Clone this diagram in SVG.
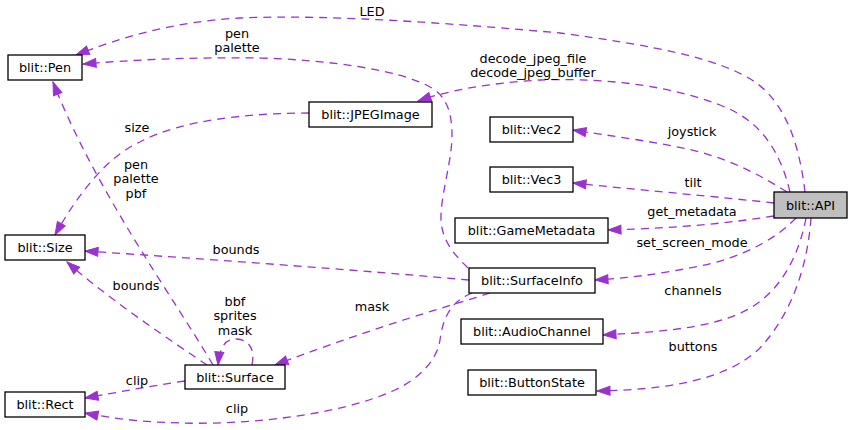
<svg xmlns="http://www.w3.org/2000/svg" width="852" height="430" viewBox="0 0 852 430">
<style>
.n rect{fill:#fff;stroke:#000;stroke-width:1.3}
.n text,.e text{font-family:"DejaVu Sans","Liberation Sans",sans-serif;font-size:12.8px;fill:#000;text-anchor:middle}
.e path{fill:none;stroke:#9a32cd;stroke-width:1.3;stroke-dasharray:8,6;marker-end:url(#a)}
</style>
<defs>
<marker id="a" markerWidth="14" markerHeight="10" refX="13" refY="4.5" orient="auto" markerUnits="userSpaceOnUse" overflow="visible">
<path d="M0,0 L13,4.5 L0,9 z" fill="#9a32cd" stroke="#9a32cd" stroke-width="1" stroke-dasharray="none"/>
</marker>
</defs>
<rect width="852" height="430" fill="#fff"/>
<g id="edges" class="e">
<g id="e-led"><path d="M805,192 C800,150 788,105 755,82 C720,58 650,45 560,33 C460,24 330,14 240,18 C170,22 120,38 76,55"/><text x="372" y="16">LED</text></g>
<g id="e-jpeg"><path d="M790,192 C780,150 760,120 720,105 C660,82 590,78 540,80 C490,83 450,90 418,101"/><text x="533" y="63">decode_jpeg_file</text><text x="533" y="77">decode_jpeg_buffer</text></g>
<g id="e-si-pen"><path d="M468,268 C455,255 440,240 441,215 C442,190 452,160 452,135 C452,110 445,95 430,87 C400,70 330,60 260,58 C190,57 130,60 83,64"/><text x="237" y="38">pen</text><text x="237" y="52">palette</text></g>
<g id="e-size"><path d="M309,113 C250,113 180,120 140,142 C110,155 80,190 55,235"/><text x="137" y="132">size</text></g>
<g id="e-surf-pen"><path d="M213,365 C175,300 95,190 53,82"/><text x="136" y="169">pen</text><text x="136" y="183">palette</text><text x="136" y="198">pbf</text></g>
<g id="e-surf-size"><path d="M207,365 C170,340 110,300 67,262"/><text x="136" y="290">bounds</text></g>
<g id="e-si-size"><path d="M469,280 C380,272 250,262 85,251"/><text x="236" y="254">bounds</text></g>
<g id="e-si-surf"><path d="M490,293 C460,303 380,325 275,365"/><text x="372" y="311">mask</text></g>
<g id="e-si-rect"><path d="M472,293 C450,302 443,318 440,340 C437,360 420,378 395,390 C340,415 250,425 180,423 C140,422 110,418 85,413"/><text x="237" y="413">clip</text></g>
<g id="e-surf-rect"><path d="M185,381 C150,386 120,392 85,398"/><text x="137" y="385">clip</text></g>
<g id="e-surf-self"><path d="M252,365 C255,350 250,340 237,339 C226,339 220,345 218,365"/><text x="235" y="306">bbf</text><text x="235" y="320">sprites</text><text x="235" y="335">mask</text></g>
<g id="e-vec2"><path d="M787,192 C760,175 735,162 700,152 C660,142 610,136 573,130"/><text x="692" y="136">joystick</text></g>
<g id="e-vec3"><path d="M774,203 C720,197 640,190 573,183"/><text x="693" y="187">tilt</text></g>
<g id="e-meta"><path d="M774,216 C730,223 680,228 608,230"/><text x="692" y="216">get_metadata</text></g>
<g id="e-si"><path d="M796,218 C775,240 740,258 700,266 C660,274 630,278 595,280"/><text x="692" y="247">set_screen_mode</text></g>
<g id="e-audio"><path d="M806,218 C800,250 785,285 755,305 C725,325 680,331 603,335"/><text x="693" y="295">channels</text></g>
<g id="e-btn"><path d="M811,218 C808,260 795,310 760,348 C725,382 660,390 597,391"/><text x="693" y="351">buttons</text></g>
</g>
<g id="n-pen" class="n"><rect x="8" y="55" width="74" height="25"/><text x="45" y="72">blit::Pen</text></g>
<g id="n-jpeg" class="n"><rect x="309" y="102" width="123" height="25"/><text x="370.5" y="119">blit::JPEGImage</text></g>
<g id="n-vec2" class="n"><rect x="490" y="117" width="83" height="25"/><text x="531.5" y="134">blit::Vec2</text></g>
<g id="n-vec3" class="n"><rect x="490" y="167" width="83" height="25"/><text x="531.5" y="184">blit::Vec3</text></g>
<g id="n-meta" class="n"><rect x="455" y="218" width="153" height="25"/><text x="531.5" y="235">blit::GameMetadata</text></g>
<g id="n-api" class="n"><rect x="774" y="192" width="73" height="26" style="fill:#bfbfbf"/><text x="810.5" y="209.5">blit::API</text></g>
<g id="n-si" class="n"><rect x="469" y="268" width="126" height="25"/><text x="532" y="285">blit::SurfaceInfo</text></g>
<g id="n-audio" class="n"><rect x="461" y="319" width="142" height="25"/><text x="532" y="336">blit::AudioChannel</text></g>
<g id="n-btn" class="n"><rect x="468" y="370" width="128" height="25"/><text x="532" y="387">blit::ButtonState</text></g>
<g id="n-size" class="n"><rect x="5" y="235" width="80" height="25"/><text x="45" y="252">blit::Size</text></g>
<g id="n-surface" class="n"><rect x="185" y="365" width="100" height="24"/><text x="235" y="381.5">blit::Surface</text></g>
<g id="n-rect" class="n"><rect x="5" y="392" width="80" height="25"/><text x="45" y="409">blit::Rect</text></g>
</svg>
